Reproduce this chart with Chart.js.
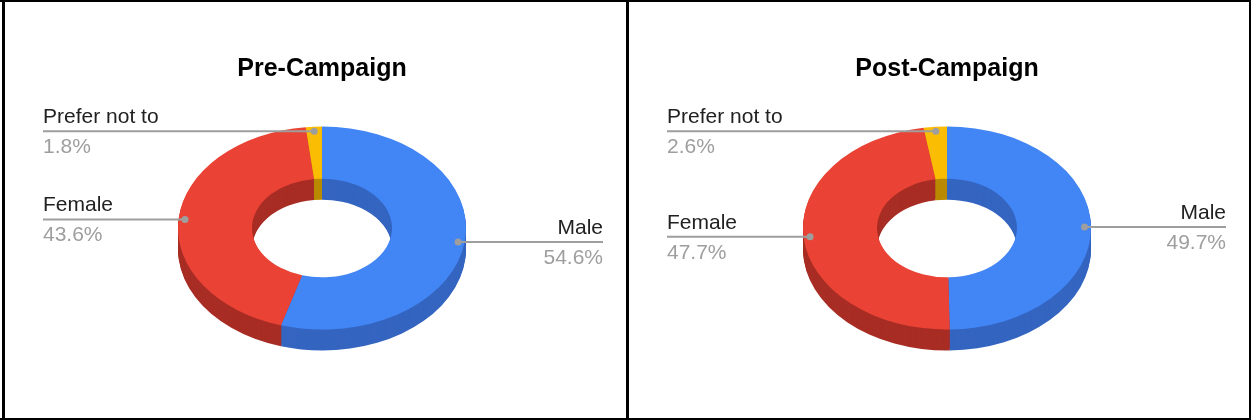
<!DOCTYPE html>
<html>
<head>
<meta charset="utf-8">
<script src="https://cdn.jsdelivr.net/npm/chart.js@4"></script>
<style>
  body { margin: 0; background: #fff; }
  .bar { position: absolute; background: #000; }
  canvas { position: absolute; top: 2px; }
</style>
</head>
<body>
<div class="bar" style="left:0;top:0;width:1251px;height:2px"></div>
<div class="bar" style="left:0;top:418px;width:1251px;height:2px"></div>
<div class="bar" style="left:2px;top:0;width:3px;height:420px"></div>
<div class="bar" style="left:626px;top:0;width:3px;height:420px"></div>
<div class="bar" style="left:1249px;top:0;width:2px;height:420px"></div>
<canvas id="prePlot" width="621" height="416" style="left:5px"></canvas>
<canvas id="postPlot" width="620" height="416" style="left:629px"></canvas>
<script>
const categories = ['Male', 'Female', 'Prefer not to']
const preValues = [54.6, 43.6, 1.8]
const postValues = [49.7, 47.7, 2.6]
const topColors = ['#4285f4', '#ea4335', '#fbbc04']
const sideColors = ['#3465c0', '#a82d24', '#b88a02']

// fake 3d: squash the rings and stack darker copies underneath
const tilt = {
    id: 'tilt',
    beforeDatasetsDraw(chart, args, opts) {
        const ctx = chart.ctx
        const arcs = chart.getDatasetMeta(0).data
        const cx = arcs[0].x, cy = arcs[0].y
        for (let k = opts.depth; k >= 1; k--) {
            ctx.save()
            ctx.translate(cx, cy + k)
            ctx.scale(1, opts.squash)
            ctx.translate(-cx, -cy)
            arcs.forEach((a, i) => {
                ctx.beginPath()
                ctx.arc(a.x, a.y, a.outerRadius, a.startAngle, a.endAngle)
                ctx.arc(a.x, a.y, a.innerRadius, a.endAngle, a.startAngle, true)
                ctx.closePath()
                ctx.fillStyle = sideColors[i]
                ctx.fill()
            })
            ctx.restore()
        }
        ctx.save()
        ctx.translate(cx, cy)
        ctx.scale(1, opts.squash)
        ctx.translate(-cx, -cy)
        arcs.forEach(a => a.draw(ctx))
        ctx.restore()
        return false
    },
    afterDraw(chart, args, opts) {
        const ctx = chart.ctx
        const arcs = chart.getDatasetMeta(0).data
        const values = chart.data.datasets[0].data
        const total = values.reduce((s, v) => s + v, 0)
        ctx.save()
        ctx.font = '21px Arial, "Liberation Sans"'
        arcs.forEach((a, i) => {
            const mid = (a.startAngle + a.endAngle) / 2
            const r = a.outerRadius * 0.955
            const dx = a.x + r * Math.cos(mid)
            const dy = a.y + r * Math.sin(mid) * opts.squash
            const left = Math.cos(mid) < 0
            const ex = left ? opts.labelLeft : opts.labelRight
            ctx.strokeStyle = '#9e9e9e'
            ctx.lineWidth = 2
            ctx.beginPath()
            ctx.moveTo(ex, dy)
            ctx.lineTo(dx, dy)
            ctx.stroke()
            ctx.fillStyle = '#9e9e9e'
            ctx.beginPath()
            ctx.arc(dx, dy, 3.5, 0, Math.PI * 2)
            ctx.fill()
            ctx.textAlign = left ? 'left' : 'right'
            ctx.fillStyle = '#212121'
            ctx.fillText(categories[i], ex, dy - 8)
            ctx.fillStyle = '#9e9e9e'
            ctx.fillText((values[i] / total * 100).toFixed(1) + '%', ex, dy + 22)
        })
        ctx.restore()
    }
}

const makeChart = (id, title, values, padLeft, padRight, labelRight) => new Chart(document.getElementById(id), {
    type: 'doughnut',
    data: {
        labels: categories,
        datasets: [{
            data: values,
            backgroundColor: topColors,
            borderWidth: 0,
            hoverOffset: 0,
            offset: 0
        }]
    },
    options: {
        responsive: false,
        animation: false,
        events: [],
        cutout: '48.6%',
        layout: { padding: { left: padLeft, right: padRight, top: 0, bottom: 46 } },
        plugins: {
            legend: { display: false },
            tooltip: { enabled: false },
            title: {
                display: true,
                text: title,
                color: '#000',
                font: { family: 'Arial, "Liberation Sans"', size: 25, weight: 'bold', lineHeight: 1.2 },
                padding: { top: 52, bottom: 0 }
            },
            tilt: { squash: 0.705, depth: 21, labelLeft: 38, labelRight: labelRight }
        }
    },
    plugins: [tilt]
})

makeChart('prePlot', 'Pre-Campaign', preValues, 173, 160, 598)
makeChart('postPlot', 'Post-Campaign', postValues, 174, 158, 597)
</script>
</body>
</html>
